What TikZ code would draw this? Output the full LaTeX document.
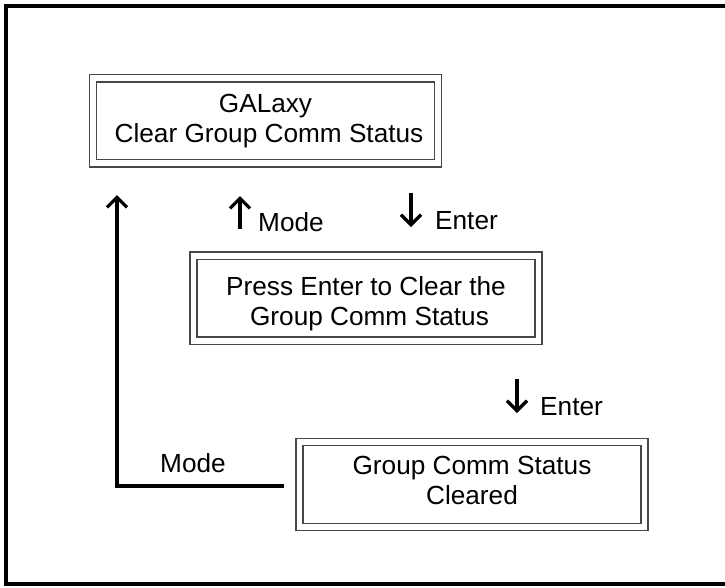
\documentclass[tikz,border=0pt]{standalone}
\usepackage{fontspec}
\setmainfont{Liberation Sans}
\usetikzlibrary{arrows.meta}
\begin{document}
\begin{tikzpicture}[x=1pt,y=-1pt,
  box/.style={draw=black!72, line width=1.4pt, double=white, double distance=5.8pt,
    minimum width=345pt, minimum height=85pt, inner sep=0pt, align=center,
    font=\fontsize{26.2}{30}\selectfont},
  lbl/.style={anchor=base west, inner sep=0pt, font=\fontsize{26.2}{30}\selectfont},
  arr/.style={line width=3.3pt, -{Straight Barb[length=10pt,width=20pt]}},
  frame/.style={line width=4pt}]
\useasboundingbox (0,0) rectangle (725,587);
% outer frame (right side lies outside the picture)
\draw[frame] (735,6) -- (6,6) -- (6,583.5) -- (735,583.5);
% boxes
\node[box] (a) at (265.5,120.75) {GALaxy\\\hspace*{7pt}Clear Group Comm Status};
\node[box] (b) at (366,298.25) {\rule{0pt}{29pt}Press Enter to Clear the\\\hspace*{7pt}Group Comm Status};
\node[box] (c) at (472,484.5) {Group Comm Status\\\rule[-8pt]{0pt}{8pt}Cleared};
% small arrows with labels
\coordinate (m1s) at (240,229);
\coordinate (m1e) at (240,196);
\coordinate (e1s) at (411,193);
\coordinate (e1e) at (411,227);
\coordinate (e2s) at (517,379);
\coordinate (e2e) at (517,413);
\draw[arr] (m1s) -- (m1e);
\draw[arr] (e1s) -- (e1e);
\draw[arr] (e2s) -- (e2e);
\node[lbl] (lm1) at (258,231.7) {Mode};
\node[lbl] (le1) at (435,229) {Enter};
\node[lbl] (le2) at (540,415) {Enter};
% mode return path
\coordinate (mtop) at (117,195);
\draw[arr] ([xshift=-14.5pt,yshift=-1.5pt]c.west) -| (mtop);
\node[lbl] (lm2) at (160,472) {Mode};
\end{tikzpicture}
\end{document}
